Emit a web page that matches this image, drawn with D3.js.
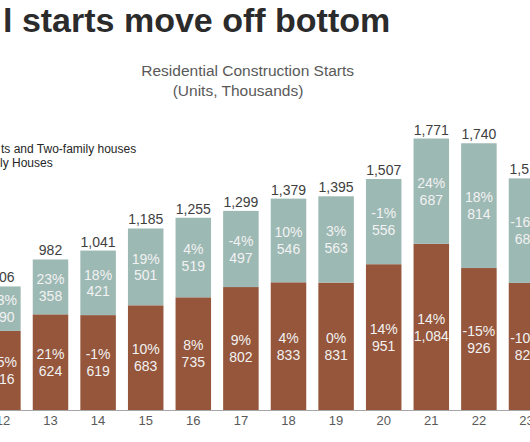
<!DOCTYPE html>
<html>
<head>
<meta charset="utf-8">
<script src="https://cdn.jsdelivr.net/npm/d3@7"></script>
<style>
  html, body { margin: 0; padding: 0; background: #ffffff; overflow: hidden; }
  svg { display: block; font-family: "Liberation Sans", Arial, sans-serif; }
</style>
</head>
<body>
<svg id="chart" width="530" height="442"></svg>
<script>
// ---- data ----
const years = ["12", "13", "14", "15", "16", "17", "18", "19", "20", "21", "22", "23"];
const singleFamily = [516, 624, 619, 683, 735, 802, 833, 831, 951, 1084, 926, 829];
const multiFamily = [290, 358, 421, 501, 519, 497, 546, 563, 556, 687, 814, 682];
const totals = [806, 982, 1041, 1185, 1255, 1299, 1379, 1395, 1507, 1771, 1740, 1511];
const singlePct = ["15%", "21%", "-1%", "10%", "8%", "9%", "4%", "0%", "14%", "14%", "-15%", "-10%"];
const multiPct = ["33%", "23%", "18%", "19%", "4%", "-4%", "10%", "3%", "-1%", "24%", "18%", "-16%"];
const seriesNames = ["Apartments and Two-family houses", "Single-family Houses"];
const titleText = "l starts move off bottom";
const subtitleLines = ["Residential Construction Starts", "(Units, Thousands)"];
const legendVisible = ["ts and Two-family houses", "ly Houses"];

// ---- styling ----
const colTeal = "#9db9b4";
const colBrown = "#95563b";

const svg = d3.select("#chart");

const step = 47.6;
const firstCenter = 2.9;
const x = d3.scaleBand()
  .domain(years)
  .range([firstCenter - step / 2, firstCenter - step / 2 + step * years.length])
  .paddingInner(0.254)
  .paddingOuter(0.127);

const y = d3.scaleLinear().domain([0, 2000]).range([410, 103.4]);

const rows = years.map((yr, i) => ({
  year: yr,
  single: singleFamily[i],
  multi: multiFamily[i],
  total: totals[i],
  sp: singlePct[i],
  mp: multiPct[i]
}));

const stack = d3.stack().keys(["single", "multi"]);
const stacked = stack(rows);
const colors = { single: colBrown, multi: colTeal };

// bars
svg.append("g").selectAll("g")
  .data(stacked)
  .join("g")
  .attr("fill", d => colors[d.key])
  .selectAll("rect")
  .data(d => d)
  .join("rect")
  .attr("x", d => x(d.data.year))
  .attr("width", x.bandwidth())
  .attr("y", d => y(d[1]))
  .attr("height", d => y(d[0]) - y(d[1]));

// axis
const axis = svg.append("g")
  .attr("transform", "translate(0,410)")
  .call(d3.axisBottom(x).tickSize(0).tickPadding(5.5));
axis.select(".domain").remove();
axis.selectAll("text")
  .attr("fill", "#595959")
  .style("font-size", "13px")
  .style("font-family", "'Liberation Sans', Arial, sans-serif");
svg.append("line")
  .attr("x1", 0).attr("x2", 530)
  .attr("y1", y(0) + 0.5).attr("y2", y(0) + 0.5)
  .attr("stroke", "#a6a6a6").attr("stroke-width", 1);

// inner labels
const labelG = svg.append("g").attr("font-size", "14px").attr("fill", "#f2f2f2").attr("text-anchor", "middle");
stacked.forEach(layer => {
  layer.forEach(d => {
    const cx = x(d.data.year) + x.bandwidth() / 2;
    const cy = (y(d[0]) + y(d[1])) / 2;
    const pct = layer.key === "single" ? d.data.sp : d.data.mp;
    const val = layer.key === "single" ? d.data.single : d.data.multi;
    labelG.append("text").attr("x", cx).attr("y", cy - 8.3).attr("dominant-baseline", "central").text(pct);
    labelG.append("text").attr("x", cx).attr("y", cy + 8.6).attr("dominant-baseline", "central").text(d3.format(",")(val));
  });
});

// total labels
svg.append("g").attr("font-size", "14px").attr("fill", "#404040").attr("text-anchor", "middle")
  .selectAll("text")
  .data(rows)
  .join("text")
  .attr("x", d => x(d.year) + x.bandwidth() / 2)
  .attr("y", d => y(d.single + d.multi) - 4)
  .text(d => d3.format(",")(d.total));

// title
svg.append("text")
  .attr("x", 3).attr("y", 32)
  .attr("font-size", "34px").attr("font-weight", "bold").attr("fill", "#2b2b2b")
  .text(titleText);

// subtitle
svg.append("text").attr("x", 247.7).attr("y", 76).attr("text-anchor", "middle")
  .attr("font-size", "15.5px").attr("fill", "#595959").text(subtitleLines[0]);
svg.append("text").attr("x", 238).attr("y", 95.5).attr("text-anchor", "middle")
  .attr("font-size", "15.5px").attr("fill", "#595959").text(subtitleLines[1]);

// legend (swatches lie outside the visible crop)
svg.append("g").attr("font-size", "12px").attr("fill", "#262626")
  .selectAll("text")
  .data(legendVisible)
  .join("text")
  .attr("x", (d, i) => i === 0 ? 1 : 0)
  .attr("y", (d, i) => 152.5 + i * 14.5)
  .text(d => d);
</script>
</body>
</html>
